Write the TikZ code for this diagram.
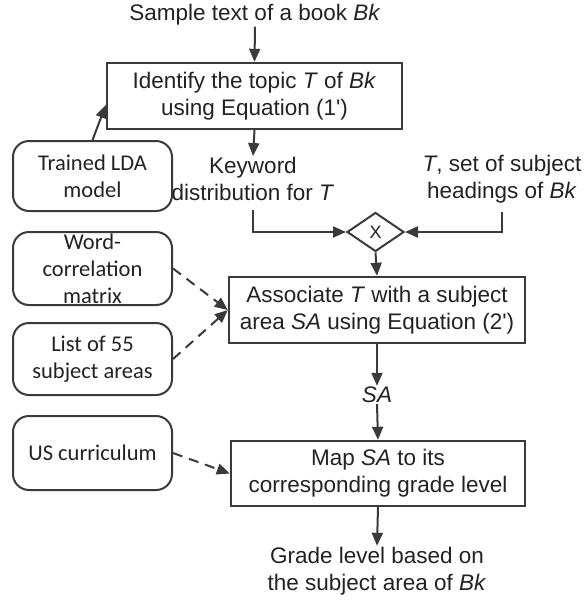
\documentclass[tikz,border=0pt]{standalone}
\usepackage{fontspec}
\setmainfont{Liberation Sans}
\newfontfamily\calibri{Carlito}
\usetikzlibrary{shapes.geometric, arrows.meta}
\definecolor{linegray}{HTML}{3A3A3A}
\definecolor{textgray}{HTML}{222222}
\tikzstyle{process} = [rectangle, draw=linegray, line width=2.4pt, inner sep=0pt, align=center, text=textgray]
\tikzstyle{source} = [rectangle, rounded corners=16pt, draw=linegray, line width=2pt, minimum width=159pt, inner sep=0pt, align=center, text=textgray, font=\calibri\fontsize{22.5}{27}\selectfont]
\tikzstyle{datatext} = [inner sep=1pt, align=center, text=textgray]
\tikzstyle{merge} = [diamond, draw=linegray, line width=2pt, minimum width=57pt, minimum height=39pt, inner sep=0pt, text=textgray, font=\fontsize{18}{20}\selectfont]
\tikzstyle{arrow} = [line width=2pt, draw=linegray, -{Triangle[length=13pt,width=11pt]}]
\tikzstyle{dasharrow} = [arrow, dash pattern=on 10pt off 7pt]

\begin{document}
\begin{tikzpicture}[x=1pt, y=-1pt, font=\fontsize{22.5}{27}\selectfont]
			\useasboundingbox (0,0) rectangle (584,600);
			
			\node(title) at (255, 15) [datatext] {Sample text of a book \textit{Bk}};
			\node(topic) at (254.5, 96) [process, minimum width=295pt, minimum height=66pt] {Identify the topic \textit{T} of \textit{Bk}\\using Equation (1\textquotesingle)};
			\node(lda) at (92.5, 176) [source, minimum height=70pt] {Trained LDA\\model};
			\node(kwd) at (253, 179) [datatext] {Keyword\\distribution for \textit{T}};
			\node(heads) at (502, 179) [datatext] {\textit{T}, set of subject\\headings of \textit{Bk}};
			\node(x) at (375.5, 232) [merge] {X};
			\node(wcm) at (92.5, 268.5) [source, minimum height=73pt] {Word-\\correlation\\matrix};
			\node(list) at (92.5, 359) [source, minimum height=72pt] {List of 55\\subject areas};
			\node(assoc) at (377, 310) [process, minimum width=296pt, minimum height=66pt] {Associate \textit{T} with a subject\\area \textit{SA} using Equation (2\textquotesingle)};
			\node(sa) at (377, 395) [datatext] {\textit{SA}};
			\node(us) at (92.5, 453) [source, minimum height=74pt] {US curriculum};
			\node(map) at (378, 473.5) [process, minimum width=294pt, minimum height=65pt] {Map \textit{SA} to its\\corresponding grade level};
			\node(grade) at (377, 571) [datatext] {Grade level based on\\the subject area of \textit{Bk}};
			\draw [arrow] (title.south) -- (topic.north);
			\draw [arrow] (lda.north) -- ([yshift=-9pt]topic.west);
			\draw [arrow] (topic.south) -- (kwd.north);
			\draw [arrow, shorten <= 8pt] (kwd.south) |- (x.west);
			\draw [arrow, shorten <= 8pt] (heads.south) |- (x.east);
			\draw [arrow] (x.south) -- (assoc.north);
			\draw [dasharrow] (wcm.east) -- (assoc.west);
			\draw [dasharrow] (list.east) -- (assoc.west);
			\draw [arrow] (assoc.south) -- (sa.north);
			\draw [arrow] (sa.south) -- (map.north);
			\draw [dasharrow] (us.east) -- (map.west);
			\draw [arrow] (map.south) -- (grade.north);
		\end{tikzpicture}
\end{document}
